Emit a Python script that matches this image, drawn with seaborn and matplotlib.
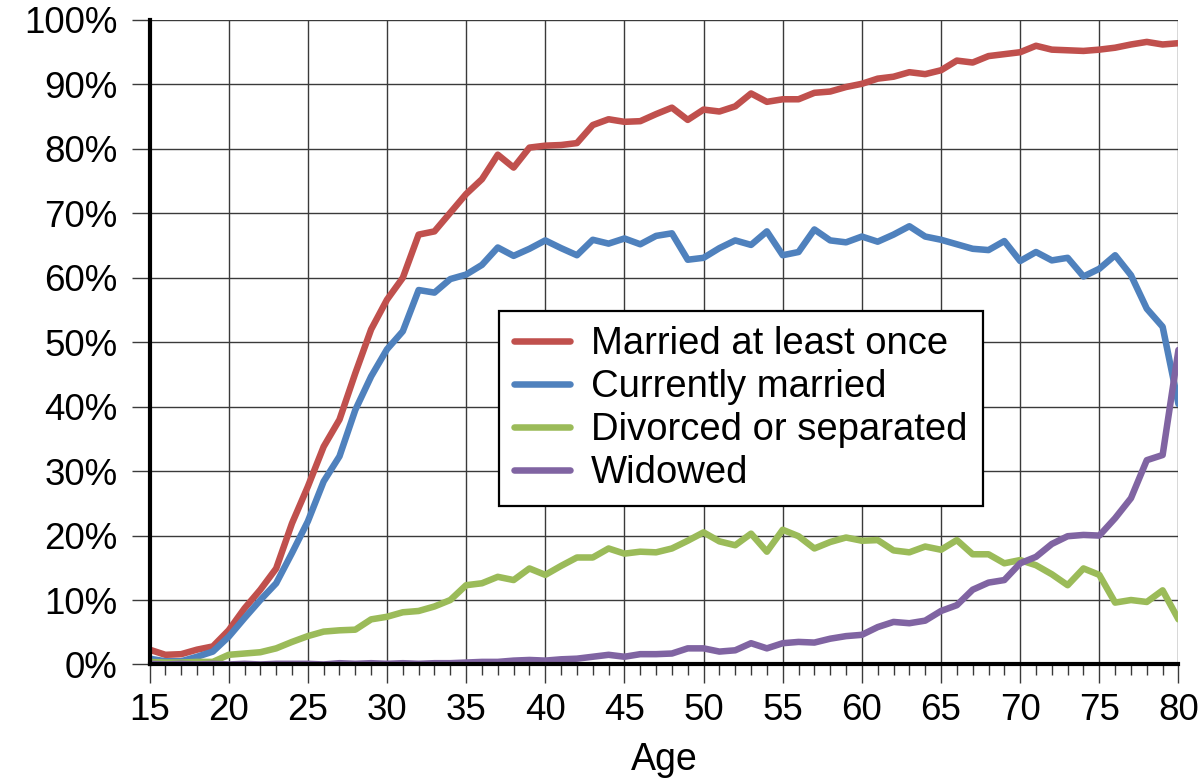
import matplotlib
matplotlib.use("Agg")
import matplotlib.pyplot as plt
import seaborn as sns
import numpy as np
import pandas as pd
from matplotlib.ticker import MultipleLocator, FuncFormatter

sns.set_theme(style="white")
plt.rcParams['font.family'] = ['Liberation Sans', 'DejaVu Sans']
plt.rcParams['text.color'] = 'black'
plt.rcParams['axes.labelcolor'] = 'black'

# Share of population by marital status, ages 15-80 (percent)
ages = list(range(15, 81))

married_once = [
    2.3, 1.5, 1.6, 2.3, 2.8, 5.3, 8.7, 11.6, 14.9, 21.9,
    27.6, 33.8, 38.0, 45.2, 52.0, 56.6, 60.0, 66.7, 67.2, 70.1,
    73.0, 75.3, 79.1, 77.1, 80.2, 80.5, 80.6, 80.9, 83.7, 84.6,
    84.2, 84.3, 85.4, 86.4, 84.5, 86.1, 85.8, 86.6, 88.6, 87.3,
    87.7, 87.7, 88.7, 88.9, 89.6, 90.1, 90.9, 91.2, 91.9, 91.6,
    92.2, 93.7, 93.4, 94.4, 94.7, 95.0, 96.0, 95.4, 95.3, 95.2,
    95.4, 95.7, 96.2, 96.6, 96.2, 96.4,
]
currently_married = [
    0.9, 0.5, 0.5, 1.2, 2.0, 4.3, 7.2, 10.0, 12.6, 17.3,
    22.2, 28.4, 32.3, 39.5, 44.7, 48.9, 51.7, 58.1, 57.7, 59.8,
    60.5, 62.0, 64.7, 63.4, 64.5, 65.8, 64.6, 63.5, 65.9, 65.3,
    66.1, 65.2, 66.5, 66.9, 62.8, 63.1, 64.6, 65.8, 65.1, 67.2,
    63.5, 64.0, 67.5, 65.8, 65.5, 66.4, 65.6, 66.7, 68.0, 66.4,
    65.9, 65.2, 64.5, 64.3, 65.7, 62.6, 64.0, 62.7, 63.1, 60.2,
    61.4, 63.5, 60.4, 55.2, 52.4, 40.4,
]
divorced = [
    0.4, 0.3, 0.3, 0.4, 0.4, 1.5, 1.7, 1.9, 2.5, 3.5,
    4.4, 5.1, 5.3, 5.4, 7.0, 7.4, 8.1, 8.3, 9.0, 10.0,
    12.3, 12.6, 13.6, 13.1, 14.9, 13.9, 15.3, 16.6, 16.6, 18.0,
    17.2, 17.5, 17.4, 18.0, 19.2, 20.5, 19.1, 18.5, 20.3, 17.5,
    20.9, 19.9, 18.0, 19.0, 19.7, 19.2, 19.3, 17.7, 17.4, 18.3,
    17.8, 19.3, 17.1, 17.1, 15.7, 16.2, 15.4, 14.0, 12.3, 14.9,
    13.9, 9.6, 10.0, 9.7, 11.5, 7.0,
]
widowed = [
    0.1, 0.0, 0.1, 0.0, 0.1, 0.0, 0.1, 0.0, 0.1, 0.1,
    0.1, 0.0, 0.2, 0.1, 0.2, 0.1, 0.2, 0.1, 0.2, 0.2,
    0.3, 0.4, 0.4, 0.6, 0.7, 0.6, 0.8, 0.9, 1.2, 1.5,
    1.2, 1.6, 1.6, 1.7, 2.5, 2.5, 2.0, 2.2, 3.3, 2.5,
    3.3, 3.5, 3.4, 4.0, 4.4, 4.6, 5.8, 6.6, 6.4, 6.8,
    8.3, 9.2, 11.6, 12.7, 13.1, 15.7, 16.7, 18.7, 19.9, 20.1,
    20.0, 22.7, 25.8, 31.7, 32.5, 48.8,
]

labels = ["Married at least once", "Currently married",
          "Divorced or separated", "Widowed"]
colors = ["#C0504D", "#4F81BD", "#9BBB59", "#8064A2"]

df = pd.concat([
    pd.DataFrame({"Age": ages, "Pct": vals, "Status": lab})
    for lab, vals in zip(labels, [married_once, currently_married, divorced, widowed])
], ignore_index=True)

fig = plt.figure(figsize=(12.03, 7.81), dpi=100)
ax = fig.add_axes([0.1243, 0.1492, 0.8553, 0.8252])

sns.lineplot(data=df, x="Age", y="Pct", hue="Status", hue_order=labels,
             palette=dict(zip(labels, colors)), linewidth=4.7,
             errorbar=None, ax=ax)

ax.set_xlim(15, 80)
ax.set_ylim(0, 100)
ax.xaxis.set_major_locator(MultipleLocator(5))
ax.xaxis.set_minor_locator(MultipleLocator(1))
ax.yaxis.set_major_locator(MultipleLocator(10))
ax.yaxis.set_major_formatter(FuncFormatter(lambda v, p: f"{v:.0f}%"))

ax.grid(True, which="major", color="#3a3a3a", linewidth=1.0)
ax.set_axisbelow(True)
for s in ["top", "right"]:
    ax.spines[s].set_visible(False)
for s in ["left", "bottom"]:
    ax.spines[s].set_color("black")
    ax.spines[s].set_linewidth(3)
    ax.spines[s].set_zorder(5)

ax.tick_params(axis="x", which="major", direction="out", length=13.7, width=1,
               color="#3a3a3a", labelsize=26.5, pad=7, bottom=True)
ax.tick_params(axis="x", which="minor", direction="out", length=7.9, width=1,
               color="#3a3a3a", bottom=True)
ax.tick_params(axis="y", which="major", direction="out", length=13, width=1,
               color="#3a3a3a", labelsize=26.5, pad=10, left=True)
ax.tick_params(axis="both", labelcolor="black")

ax.set_xlabel("Age", fontsize=27, color="black", labelpad=10)
ax.set_ylabel("")

handles, labs = ax.get_legend_handles_labels()
leg = ax.legend(handles, labs, loc="upper left", bbox_to_anchor=(0.3397, 0.5485),
                borderaxespad=0, fontsize=27.5, frameon=True, fancybox=False,
                handlelength=1.45, handletextpad=0.55, labelspacing=0.18,
                borderpad=0.4, labelcolor="black")
leg.get_frame().set_edgecolor("black")
leg.get_frame().set_linewidth(1.6)
leg.get_frame().set_alpha(1)
for line in leg.get_lines():
    line.set_linewidth(4.7)

plt.savefig("out.png", dpi=100)
plt.close()
